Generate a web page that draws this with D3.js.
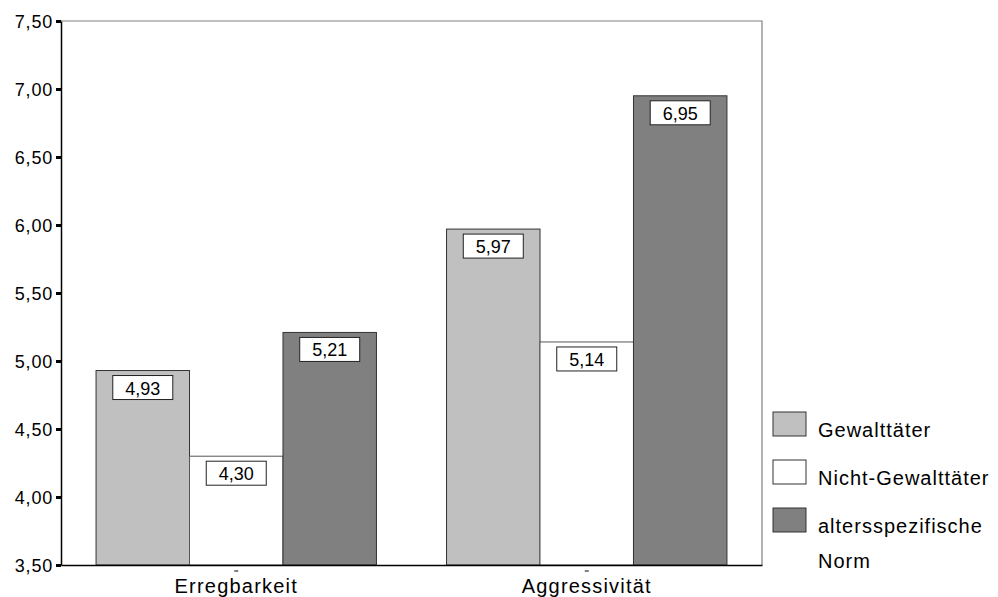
<!DOCTYPE html>
<html>
<head>
<meta charset="utf-8">
<script src="https://cdn.jsdelivr.net/npm/d3@7"></script>
<style>
  html, body { margin: 0; padding: 0; background: #fff; }
  svg { display: block; font-family: Arial, "Liberation Sans", sans-serif; }
</style>
</head>
<body>
<svg id="chart" width="998" height="597"></svg>
<script>
// Kategorien, Gruppen und Mittelwerte
const categories = ["Erregbarkeit", "Aggressivität"];
const groups = ["Gewalttäter", "Nicht-Gewalttäter", "altersspezifische Norm"];
const gewalttaeter = [4.93, 5.97];
const nichtGewalttaeter = [4.30, 5.14];
const norm = [5.21, 6.95];
const yTicks = [3.5, 4.0, 4.5, 5.0, 5.5, 6.0, 6.5, 7.0, 7.5];
const fills = ["#c0c0c0", "#ffffff", "#808080"];

const seriesValues = [gewalttaeter, nichtGewalttaeter, norm];
const rows = [];
categories.forEach((c, ci) => {
  groups.forEach((g, gi) => rows.push({ cat: c, group: g, gi, value: seriesValues[gi][ci] }));
});

const FONT = "Arial, 'Liberation Sans', sans-serif";
const svg = d3.select("#chart");
const m = { left: 61, right: 762, top: 21, bottom: 565 };

const x = d3.scaleBand().domain(categories).range([m.left, m.right])
  .paddingInner(0.2).paddingOuter(0.1);
const xs = d3.scaleBand().domain(groups).range([0, x.bandwidth()]);
const y = d3.scaleLinear().domain([3.5, 7.5]).range([m.bottom, m.top]);

const fmt = v => d3.format(".2f")(v).replace(".", ",");

// Rahmen des Diagrammbereichs (oben/rechts grau)
svg.append("path")
  .attr("d", `M${m.left},${m.top}H${m.right}V${m.bottom}`)
  .attr("fill", "none").attr("stroke", "#808080").attr("stroke-width", 1.2);

// Balken
svg.append("g").selectAll("rect").data(rows).join("rect")
  .attr("x", d => x(d.cat) + xs(d.group))
  .attr("y", d => y(d.value))
  .attr("width", xs.bandwidth())
  .attr("height", d => y(3.5) - y(d.value))
  .attr("fill", d => fills[d.gi])
  .attr("stroke", d => d.gi === 1 ? "#555" : "#333")
  .attr("stroke-width", 1);

// Wertebeschriftungen in Kästchen
const lab = svg.append("g").selectAll("g").data(rows).join("g")
  .attr("transform", d => `translate(${x(d.cat) + xs(d.group) + xs.bandwidth() / 2},${y(d.value) + 5})`);
lab.append("rect")
  .attr("x", -30).attr("y", 0).attr("width", 60).attr("height", 24)
  .attr("fill", "#fff").attr("stroke", "#222").attr("stroke-width", 1);
lab.append("text")
  .attr("x", 0).attr("y", 19).attr("text-anchor", "middle")
  .attr("font-size", 18).attr("font-family", FONT).attr("fill", "#000")
  .text(d => fmt(d.value));

// Y-Achse
const yAxis = svg.append("g").attr("transform", `translate(${m.left},0)`)
  .call(d3.axisLeft(y).tickValues(yTicks).tickFormat(fmt).tickSize(0).tickPadding(8));
yAxis.select(".domain").attr("stroke", "#000").attr("stroke-width", 1.5);
yAxis.selectAll(".tick text").attr("font-size", 18).attr("fill", "#000")
  .attr("font-family", FONT).attr("letter-spacing", 0.8).attr("dy", "0.35em");
yAxis.selectAll(".tick").append("rect")
  .attr("x", -5).attr("y", -1.5).attr("width", 5).attr("height", 3).attr("fill", "#000");

// X-Achse
const xAxis = svg.append("g").attr("transform", `translate(0,${m.bottom})`)
  .call(d3.axisBottom(x).tickSize(0).tickPadding(0));
xAxis.select(".domain").attr("stroke", "#000").attr("stroke-width", 1.5);
xAxis.selectAll(".tick text").remove();
xAxis.selectAll(".tick").append("line")
  .attr("x1", -2).attr("x2", 2).attr("y1", 6).attr("y2", 6).attr("stroke", "#000").attr("stroke-width", 1);
xAxis.selectAll(".tick").append("text")
  .attr("y", 28).attr("text-anchor", "middle").attr("font-size", 20).attr("fill", "#000")
  .attr("font-family", FONT).attr("letter-spacing", 1.2)
  .text(d => d);

// Legende
const legendLines = [["Gewalttäter"], ["Nicht-Gewalttäter"], ["altersspezifische", "Norm"]];
const leg = svg.append("g").selectAll("g").data(groups).join("g")
  .attr("transform", (d, i) => `translate(773,${412 + i * 48})`);
leg.append("rect")
  .attr("width", 33).attr("height", 24)
  .attr("fill", (d, i) => fills[i]).attr("stroke", "#333").attr("stroke-width", 1);
leg.each(function(d, i) {
  const t = d3.select(this).append("text")
    .attr("x", 45).attr("y", 25).attr("font-size", 20).attr("font-family", FONT)
    .attr("letter-spacing", 1).attr("fill", "#000");
  legendLines[i].forEach((line, li) => {
    t.append("tspan").attr("x", 45).attr("dy", li === 0 ? 0 : 35).text(line);
  });
});
</script>
</body>
</html>
